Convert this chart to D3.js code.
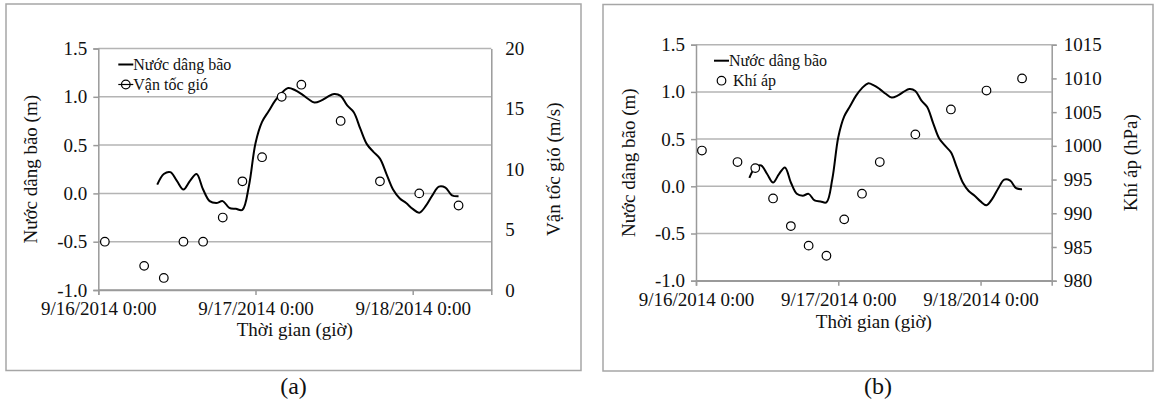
<!DOCTYPE html>
<html>
<head>
<meta charset="utf-8">
<script src="https://cdn.jsdelivr.net/npm/d3@7"></script>
<style>
  html, body { margin: 0; padding: 0; background: #fff; }
  svg { display: block; }
</style>
</head>
<body>
<svg id="chart" width="1158" height="407"></svg>
<script>
// Hours counted from 9/16/2014 0:00
const surgeHours = d3.range(9, 56);
const surgeValues = [
  0.09, 0.20, 0.22, 0.13, 0.04, 0.13, 0.20, 0.04, -0.08, -0.10,
  -0.08, -0.15, -0.16, -0.17, 0.08, 0.52, 0.74, 0.85, 0.96, 1.04,
  1.09, 1.07, 1.03, 0.98, 0.94, 0.96, 1.00, 1.03, 1.01, 0.91,
  0.84, 0.67, 0.51, 0.43, 0.36, 0.20, 0.04, -0.05, -0.10, -0.16,
  -0.20, -0.13, -0.02, 0.07, 0.06, -0.02, -0.03
];
const obsHours = [1, 7, 10, 13, 16, 19, 22, 25, 28, 31, 37, 43, 49, 55];
const windValues = [4, 2, 1, 4, 4, 6, 9, 11, 16, 17, 14, 9, 8, 7];
const pressureValues = [999.3, 997.6, 996.7, 992.2, 988.1, 985.2, 983.7,
  989.1, 992.9, 997.6, 1001.7, 1005.4, 1008.2, 1010.0];

const xTickHours = [0, 24, 48];
const xTickLabels = ["9/16/2014 0:00", "9/17/2014 0:00", "9/18/2014 0:00"];
const surgeTicks = [-1.0, -0.5, 0.0, 0.5, 1.0, 1.5];
const windTicks = [0, 5, 10, 15, 20];
const pressureTicks = [980, 985, 990, 995, 1000, 1005, 1010, 1015];

const SERIF = "'Liberation Serif', 'DejaVu Serif', serif";
const svg = d3.select("#chart").attr("font-family", SERIF);
const GRID = "#b4b4b4", AXIS = "#9a9a9a", FONT = 19;

function txt(sel, size) {
  return sel.attr("font-family", SERIF).attr("font-size", size).attr("fill", "#111");
}

function panel(cfg) {
  const g = svg.append("g");
  // frame around the panel
  g.append("rect")
    .attr("x", cfg.box[0]).attr("y", cfg.box[1])
    .attr("width", cfg.box[2] - cfg.box[0]).attr("height", cfg.box[3] - cfg.box[1])
    .attr("fill", "none").attr("stroke", "#a6a6a6").attr("stroke-width", 1.5);

  const [x0, x1, y0, y1] = cfg.plot; // left, right, top, bottom
  const x = d3.scaleLinear().domain([0, 60]).range([x0, x1]);
  const y = d3.scaleLinear().domain([-1, 1.5]).range([y1, y0]);
  const y2 = d3.scaleLinear().domain(cfg.rightDomain).range([y1, y0]);

  // horizontal gridlines
  g.append("g").selectAll("line").data(surgeTicks).join("line")
    .attr("x1", x0).attr("x2", x1)
    .attr("y1", d => y(d)).attr("y2", d => y(d))
    .attr("stroke", d => d === -1 ? AXIS : GRID).attr("stroke-width", 1.5);

  // left axis
  const la = g.append("g").attr("transform", `translate(${x0},0)`)
    .call(d3.axisLeft(y).tickValues(surgeTicks)
      .tickFormat(d => (d < 0 ? "-" : "") + Math.abs(d).toFixed(1))
      .tickSize(5).tickPadding(6));
  la.attr("font-family", SERIF);
  la.select(".domain").attr("stroke", AXIS).attr("stroke-width", 1.5);
  la.selectAll(".tick line").attr("stroke", AXIS).attr("stroke-width", 1.5);
  txt(la.selectAll("text"), FONT);

  // right axis
  const ra = g.append("g").attr("transform", `translate(${x1},0)`)
    .call(d3.axisRight(y2).tickValues(cfg.rightTicks).tickFormat(d3.format("d"))
      .tickSize(cfg.rightTickSize).tickPadding(cfg.rightPad));
  ra.attr("font-family", SERIF);
  ra.select(".domain").attr("stroke", AXIS).attr("stroke-width", 1.5);
  ra.selectAll(".tick line").attr("stroke", AXIS).attr("stroke-width", 1.5);
  txt(ra.selectAll("text"), FONT);

  // bottom axis
  const ba = g.append("g").attr("transform", `translate(0,${y1})`)
    .call(d3.axisBottom(x).tickValues(xTickHours).tickFormat((d, i) => xTickLabels[i])
      .tickSize(5).tickPadding(7));
  ba.attr("font-family", SERIF);
  ba.select(".domain").attr("stroke", AXIS).attr("stroke-width", 1.5);
  ba.selectAll(".tick line").attr("stroke", AXIS).attr("stroke-width", 1.5);
  txt(ba.selectAll("text"), FONT);

  // surge line
  const line = d3.line().x((d, i) => x(surgeHours[i])).y(d => y(d))
    .curve(d3.curveCatmullRom.alpha(0.5));
  g.append("path").datum(surgeValues).attr("d", line)
    .attr("fill", "none").attr("stroke", "#000").attr("stroke-width", 2);

  // observation circles
  g.append("g").selectAll("circle").data(cfg.values).join("circle")
    .attr("cx", (d, i) => x(obsHours[i])).attr("cy", d => y2(d)).attr("r", 4.3)
    .attr("fill", "#fff").attr("stroke", "#000").attr("stroke-width", 1.2);

  // axis titles
  txt(g.append("text"), FONT)
    .attr("transform", `translate(${cfg.leftTitleX},${(y0 + y1) / 2}) rotate(-90)`)
    .attr("text-anchor", "middle").attr("dy", "0.35em")
    .text("Nước dâng bão (m)");
  txt(g.append("text"), FONT)
    .attr("transform", `translate(${cfg.rightTitleX},${(y0 + y1) / 2}) rotate(-90)`)
    .attr("text-anchor", "middle").attr("dy", "0.35em")
    .text(cfg.rightTitle);
  txt(g.append("text"), FONT).attr("x", (x0 + x1) / 2).attr("y", cfg.xTitleY)
    .attr("text-anchor", "middle").text("Thời gian (giờ)");
  txt(g.append("text"), 24).attr("x", (cfg.box[0] + cfg.box[2]) / 2).attr("y", 394)
    .attr("text-anchor", "middle").text(cfg.tag);

  // legend
  const lx = x0 + cfg.legendDx, ly = y0 + 16;
  g.append("line").attr("x1", lx).attr("x2", lx + 15).attr("y1", ly).attr("y2", ly)
    .attr("stroke", "#000").attr("stroke-width", 2);
  txt(g.append("text"), 16).attr("x", lx + 15).attr("y", ly).attr("dy", "0.33em")
    .text("Nước dâng bão");
  const ly2 = ly + 20;
  if (cfg.legendLine) {
    g.append("line").attr("x1", lx).attr("x2", lx + 15).attr("y1", ly2).attr("y2", ly2)
      .attr("stroke", "#000").attr("stroke-width", 1.2);
  }
  g.append("circle").attr("cx", lx + 7.5).attr("cy", ly2).attr("r", 4.3)
    .attr("fill", cfg.legendLine ? "none" : "#fff").attr("stroke", "#000").attr("stroke-width", 1.2);
  txt(g.append("text"), 16).attr("x", lx + (cfg.legendLine ? 15 : 19)).attr("y", ly2).attr("dy", "0.33em")
    .text(cfg.rightLegend);
}

panel({
  box: [6, 4, 581, 370.5],
  plot: [98.3, 491.3, 48.5, 290],
  rightDomain: [0, 20], rightTicks: windTicks, rightTickSize: 0, rightPad: 14,
  values: windValues, rightTitle: "Vận tốc gió (m/s)", rightLegend: "Vận tốc gió",
  leftTitleX: 30, rightTitleX: 553, xTitleY: 336, tag: "(a)", legendDx: 20, legendLine: true
});

panel({
  box: [603, 4.5, 1153, 371],
  plot: [696, 1051.7, 44.7, 280.7],
  rightDomain: [980, 1015], rightTicks: pressureTicks, rightTickSize: 5, rightPad: 7,
  values: pressureValues, rightTitle: "Khí áp (hPa)", rightLegend: "Khí áp",
  leftTitleX: 628, rightTitleX: 1130, xTitleY: 328, tag: "(b)", legendDx: 18, legendLine: false
});
</script>
</body>
</html>
